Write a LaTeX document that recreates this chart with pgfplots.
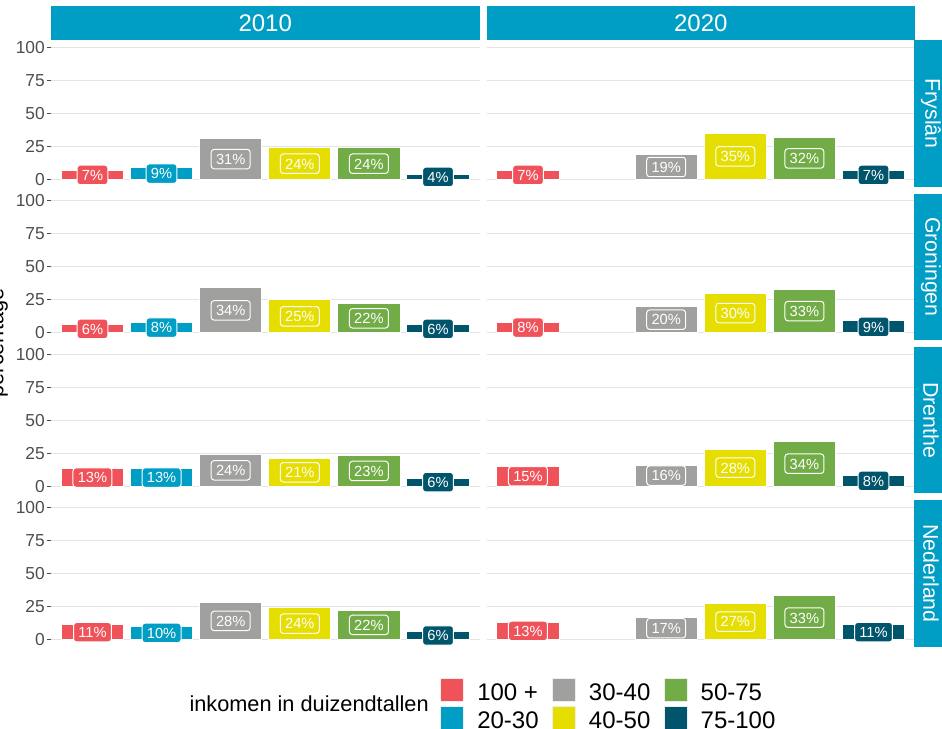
\documentclass[border=0pt]{standalone}
\usepackage{pgfplots}
\pgfplotsset{compat=1.18}
\usepackage{pgfplotstable}
\usepackage{fontspec}
\setmainfont{Liberation Sans}

\definecolor{c0}{RGB}{240,82,90}   % 100 +
\definecolor{c1}{RGB}{0,157,197}   % 20-30
\definecolor{c2}{RGB}{160,160,158} % 30-40
\definecolor{c3}{RGB}{230,222,0}   % 40-50
\definecolor{c4}{RGB}{114,172,70}  % 50-75
\definecolor{c5}{RGB}{0,84,107}    % 75-100
\definecolor{strip}{RGB}{0,157,197}
\definecolor{gridc}{RGB}{228,228,228}
\definecolor{tickc}{RGB}{77,77,77}
\definecolor{keyc}{RGB}{238,238,238}

% rows: 100 +, 20-30, 30-40, 40-50, 50-75, 75-100
\pgfplotstableread{
x Fr Gr Dr Nl
1 7 6 13 11
2 9 8 13 10
3 31 34 24 28
4 24 25 21 24
5 24 22 23 22
6 4 6 6 6
}\tabA
\pgfplotstableread{
x Fr Gr Dr Nl
1 7 8 15 13
2 nan nan nan nan
3 19 20 16 17
4 35 30 28 27
5 32 33 34 33
6 7 9 8 11
}\tabB

\tikzset{lab/.style={anchor=center, draw=white, text=white, line width=0.75pt,
  rounded corners=2.2pt, font=\fontsize{11}{11}\selectfont,
  inner xsep=3.6pt, inner ysep=3.3pt, text height=8pt, text depth=0pt}}

\pgfplotsset{
  panel/.style={
    scale only axis, width=321.375pt, height=109.875pt, anchor=south west,
    xmin=0.4, xmax=6.6, ymin=-5.5, ymax=105.5,
    xtick=\empty, ytick={0,25,50,75,100},
    ymajorgrids, grid style={gridc, line width=0.8pt},
    axis line style={draw=none},
    tick align=outside, tick pos=left, major tick length=3pt,
    ytick style={tickc, line width=0.8pt},
    yticklabel style={font=\fontsize{13}{13}\selectfont, text=tickc, inner xsep=1.5pt},
    /pgf/number format/assume math mode=true,
    clip=false,
  },
  nolabels/.style={yticklabels={}, major tick length=0pt},
  leg/.style={
    legend columns=3,
    legend image code/.code={\filldraw[##1, draw=keyc, line width=0.6pt] (0.3pt,-8.7pt) rectangle (17.7pt,8.7pt);},
    legend style={at={(0.9078,-0.2116)}, anchor=north west, draw=none, fill=none,
      inner sep=0pt, row sep=3pt, font=\fontsize{18}{18}\selectfont,
      nodes={inner sep=0pt, text height=16.7pt, text depth=1.3pt},
      /tikz/every odd column/.append style={column sep=9.75pt},
      /tikz/every even column/.append style={column sep=10pt}},
    legend cell align=left,
  },
}

% #1 table, #2 column, #3 position, #4 extra options, #5 bar indices, #6 extra body
\newcommand{\panel}[6]{%
\begin{axis}[panel, at={(#3)}, #4]
\pgfplotsinvokeforeach{#5}{
  \addplot[forget plot, ybar, bar width=0.9, bar shift=0pt, fill=c##1, draw=white,
    line width=0.75pt, restrict expr to domain={\coordindex}{##1:##1}]
    table[x=x, y=#2] {#1};
  \addplot[forget plot, draw=none, mark=none, point meta=explicit symbolic,
    nodes near coords={\pgfplotspointmeta\%},
    nodes near coords style={lab, fill=c##1},
    restrict expr to domain={\coordindex}{##1:##1}]
    table[x=x, y expr=\thisrow{#2}/2, meta=#2] {#1};
}
#6
\end{axis}}

\begin{document}
\begin{tikzpicture}
\useasboundingbox (0pt,0pt) rectangle (706.5pt,-546pt);

\panel{\tabA}{Fr}{38.25pt,-140.1pt}{}{0,...,5}{}
\panel{\tabA}{Gr}{38.25pt,-255.075pt}{}{0,...,5}{}
\panel{\tabA}{Dr}{38.25pt,-370.05pt}{}{0,...,5}{}
\panel{\tabA}{Nl}{38.25pt,-485.025pt}{leg}{0,...,5}{%
  \addlegendimage{fill=c0}\addlegendentry{100 +}
  \addlegendimage{fill=c2}\addlegendentry{30-40}
  \addlegendimage{fill=c4}\addlegendentry{50-75}
  \addlegendimage{fill=c1}\addlegendentry{20-30}
  \addlegendimage{fill=c3}\addlegendentry{40-50}
  \addlegendimage{fill=c5}\addlegendentry{75-100}
}
\panel{\tabB}{Fr}{364.875pt,-140.1pt}{nolabels}{0,2,3,4,5}{}
\panel{\tabB}{Gr}{364.875pt,-255.075pt}{nolabels}{0,2,3,4,5}{}
\panel{\tabB}{Dr}{364.875pt,-370.05pt}{nolabels}{0,2,3,4,5}{}
\panel{\tabB}{Nl}{364.875pt,-485.025pt}{nolabels}{0,2,3,4,5}{}

\begin{scope}[x=0.75pt,y=-0.75pt]
  % facet strips
  \fill[strip] (51,6) rectangle (479.5,40.3);
  \fill[strip] (486.5,6) rectangle (915,40.3);
  \node[text=white, font=\fontsize{18}{18}\selectfont] at (265.25,23.15) {2010};
  \node[text=white, font=\fontsize{18}{18}\selectfont] at (700.75,23.15) {2020};
  \foreach \t/\b/\n in {40.3/186.8/Fryslân, 193.6/340.1/Groningen,
                        346.9/493.4/Drenthe, 500.2/646.7/Nederland}{
    \fill[strip] (914,\t) rectangle (949,\b);
    \node[rotate=-90, text=white, font=\fontsize{16}{16}\selectfont]
      at (931,{(\t+\b)/2}) {\n};
  }
  % axis title, partly cut off at the left edge
  \node[rotate=90, anchor=base, font=\fontsize{16.3}{16.3}\selectfont] at (3.5,343) {percentage};
  % legend title
  \node[anchor=base east, inner sep=0pt, font=\fontsize{16.3}{16.3}\selectfont]
    at (429,711.7) {inkomen in duizendtallen};
\end{scope}
\end{tikzpicture}
\end{document}
